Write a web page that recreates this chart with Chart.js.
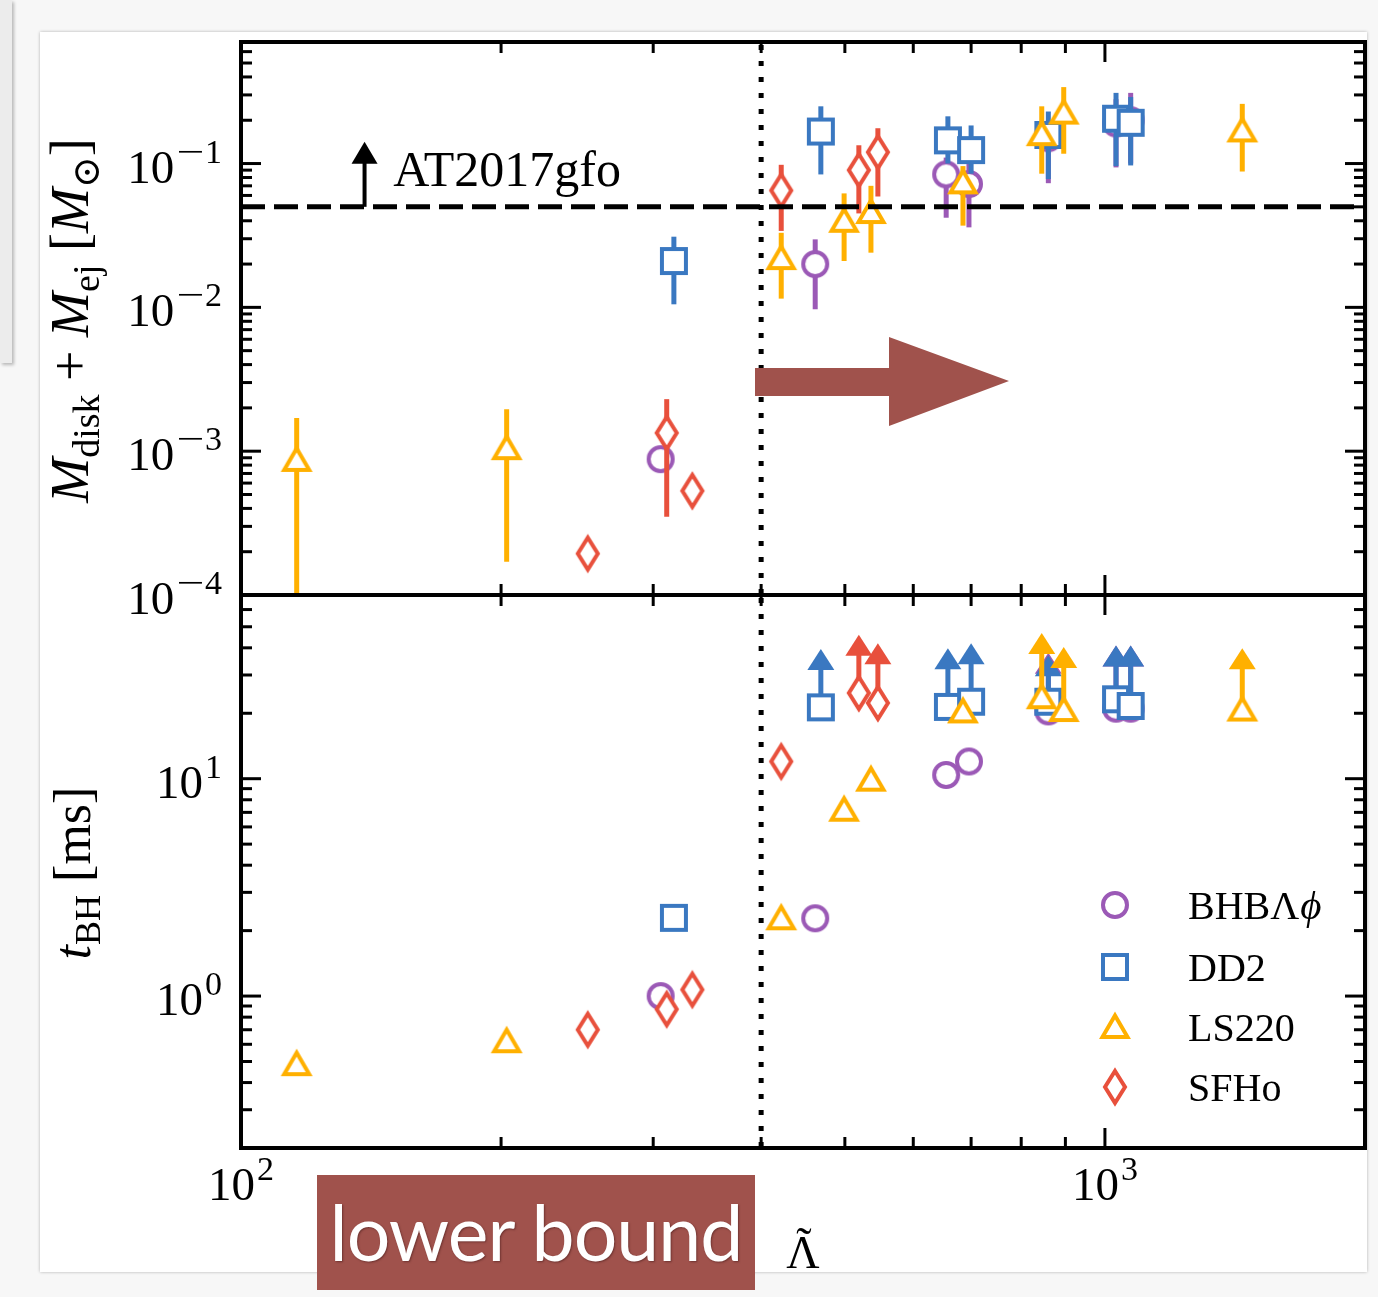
<!DOCTYPE html>
<html>
<head>
<meta charset="utf-8">
<script src="https://cdn.jsdelivr.net/npm/chart.js@4/dist/chart.umd.min.js"></script>
<style>
html,body{margin:0;padding:0;background:#f5f5f5;}
#page{position:relative;width:1378px;height:1297px;overflow:hidden;background:#f7f7f7;}
#ghost{position:absolute;left:0;top:0;width:12px;height:363px;background:#ececec;box-shadow:2px 2px 3px rgba(0,0,0,0.25);}
#card{position:absolute;left:40px;top:32px;width:1327px;height:1240px;background:#fff;box-shadow:0 0 3px rgba(0,0,0,0.28);}
canvas{position:absolute;left:0;top:0;}
#bigArrow{position:absolute;left:0;top:0;}
#lowerBound{position:absolute;left:317px;top:1175px;width:438px;height:115px;background:#a0524c;color:#fff;
  font-family:Lato,'Open Sans',sans-serif;font-size:77px;line-height:112px;text-align:center;letter-spacing:-1px;
  text-shadow:1px 1px 2px rgba(60,20,20,0.5);}
</style>
</head>
<body>
<div id="page">
  <div id="ghost"></div>
  <div id="card"></div>
  <canvas id="topChart" width="1378" height="1297"></canvas>
  <canvas id="bottomChart" width="1378" height="1297"></canvas>
  <svg id="bigArrow" width="1378" height="1297"><polygon points="755,368 889,368 889,337 1009,381 889,426 889,396 755,396" fill="#a0524c"/></svg>
  <div id="lowerBound">lower bound</div>
</div>
<script>
// ---------------- data ----------------
const seriesNames = ['BHBΛϕ', 'DD2', 'LS220', 'SFHo'];

// Lambda-tilde of each simulation
const bhbLambda   = [306, 462, 655, 696, 860, 1030, 1071];
const dd2Lambda   = [317, 469, 658, 700, 860, 1030, 1071];
const ls220Lambda = [116, 203, 422, 499, 536, 685, 845, 896, 1442];
const sfhoLambda  = [252, 311, 333, 422, 519, 546];

// M_disk + M_ej [Msun] and its error range
const bhbMass     = [8.8e-4, 0.020, 0.084, 0.072, 0.150, 0.190, 0.200];
const bhbMassLow  = [null, 0.0097, 0.042, 0.036, 0.073, 0.094, 0.10];
const bhbMassHigh = [null, 0.0297, 0.11, 0.10, 0.20, 0.28, 0.31];

const dd2Mass     = [0.021, 0.167, 0.145, 0.124, 0.158, 0.205, 0.192];
const dd2MassLow  = [0.0105, 0.084, 0.10, 0.085, 0.078, 0.096, 0.097];
const dd2MassHigh = [0.031, 0.25, 0.213, 0.184, 0.23, 0.31, 0.29];

const ls220Mass     = [8.7e-4, 1.05e-3, 0.022, 0.040, 0.046, 0.074, 0.16, 0.226, 0.17];
const ls220MassLow  = [3e-5, 1.7e-4, 0.0115, 0.021, 0.024, 0.037, 0.085, 0.117, 0.088];
const ls220MassHigh = [1.7e-3, 1.96e-3, 0.033, 0.062, 0.070, 0.096, 0.25, 0.34, 0.26];

const sfhoMass     = [1.94e-4, 1.34e-3, 5.3e-4, 0.065, 0.090, 0.120];
const sfhoMassLow  = [null, 3.5e-4, null, 0.034, 0.045, 0.059];
const sfhoMassHigh = [null, 2.3e-3, null, 0.098, 0.134, 0.176];

// t_BH [ms] and lower-limit arrow tips
const bhbTime      = [1.0, 2.28, 10.4, 12.0, 20.4, 21.0, 21.0];
const bhbTimeLimit = [null, null, null, null, 38, 41, 41];
const dd2Time      = [2.29, 21.3, 21.4, 22.6, 22.6, 23.2, 21.6];
const dd2TimeLimit = [null, 39.5, 39.8, 42, 37, 41, 41];
const ls220Time      = [0.486, 0.62, 2.28, 7.2, 9.9, 20.4, 23.7, 20.7, 20.8];
const ls220TimeLimit = [null, null, null, null, null, null, 46.8, 40.4, 39.8];
const sfhoTime      = [0.70, 0.87, 1.07, 12.0, 24.8, 22.3];
const sfhoTimeLimit = [null, null, null, null, 46, 42];

// axes
const lambdaRange = [100, 2000];
const massRange   = [1e-4, 0.7];
const timeRange   = [0.2, 70];
const lambdaMajorTicks = [100, 1000];
const massMajorTicks   = [1e-4, 1e-3, 1e-2, 1e-1];
const timeMajorTicks   = [1, 10];
const at2017gfoMass = 0.05;
const lambdaLowerBound = 400;

// ---------------- styles ----------------
const colors = {bhb:'#9b59b6', dd2:'#3a78c1', ls220:'#ffb000', sfho:'#e8503c'};
const SERIF = '"Liberation Serif", "DejaVu Serif", serif';

function makeMarker(shape, color) {
  const c = document.createElement('canvas'); c.width = 44; c.height = 48;
  const g = c.getContext('2d'); g.translate(22, 24);
  g.lineWidth = 4; g.strokeStyle = color; g.fillStyle = '#fff'; g.lineJoin = 'miter'; g.miterLimit = 10;
  g.beginPath();
  if (shape === 'circle') g.arc(0, 0, 12, 0, 2 * Math.PI);
  else if (shape === 'square') g.rect(-12, -12, 24, 24);
  else if (shape === 'triangle') { g.moveTo(0, -11.5); g.lineTo(12.5, 10); g.lineTo(-12.5, 10); g.closePath(); }
  else { g.moveTo(0, -16); g.lineTo(10, 0); g.lineTo(0, 16); g.lineTo(-10, 0); g.closePath(); }
  g.fill(); g.stroke();
  return c;
}

const series = [
  {label: seriesNames[0], color: colors.bhb,   shape:'circle',   lam: bhbLambda,   mass: bhbMass,   lo: bhbMassLow,   hi: bhbMassHigh,   time: bhbTime,   lim: bhbTimeLimit,   order: 4},
  {label: seriesNames[1], color: colors.dd2,   shape:'square',   lam: dd2Lambda,   mass: dd2Mass,   lo: dd2MassLow,   hi: dd2MassHigh,   time: dd2Time,   lim: dd2TimeLimit,   order: 3},
  {label: seriesNames[2], color: colors.ls220, shape:'triangle', lam: ls220Lambda, mass: ls220Mass, lo: ls220MassLow, hi: ls220MassHigh, time: ls220Time, lim: ls220TimeLimit, order: 2},
  {label: seriesNames[3], color: colors.sfho,  shape:'diamond',  lam: sfhoLambda,  mass: sfhoMass,  lo: sfhoMassLow,  hi: sfhoMassHigh,  time: sfhoTime,  lim: sfhoTimeLimit,  order: 1},
];
series.forEach(s => s.marker = makeMarker(s.shape, s.color));

function baseDataset(s, ys) {
  return {label: s.label, data: s.lam.map((x, i) => ({x, y: ys[i]})), pointStyle: s.marker, pointRadius: 12,
    pointHoverRadius: 12, borderColor: s.color, backgroundColor: '#fff', order: s.order, showLine: false, seriesColor: s.color};
}
const topDatasets = series.map(s => Object.assign(baseDataset(s, s.mass), {errLow: s.lo, errHigh: s.hi}));
const bottomDatasets = series.map(s => Object.assign(baseDataset(s, s.time), {limit: s.lim}));

// ---------------- helpers ----------------
function logTicks(min, max) {
  const out = [];
  for (let e = Math.floor(Math.log10(min)); e <= Math.ceil(Math.log10(max)); e++) {
    for (let m = 1; m <= 9; m++) {
      const v = m * Math.pow(10, e);
      if (v >= min * 0.9999 && v <= max * 1.0001) out.push({v, major: m === 1});
    }
  }
  return out;
}
function seg(ctx, x1, y1, x2, y2) { ctx.beginPath(); ctx.moveTo(x1, y1); ctx.lineTo(x2, y2); ctx.stroke(); }

function drawErrors(chart, ds) {
  const {ctx, chartArea: a, scales: {x, y}} = chart;
  ctx.save();
  ctx.beginPath(); ctx.rect(a.left, a.top, a.right - a.left, a.bottom - a.top); ctx.clip();
  ctx.strokeStyle = ds.seriesColor; ctx.fillStyle = ds.seriesColor; ctx.lineWidth = 5; ctx.lineCap = 'butt';
  ds.data.forEach((p, i) => {
    const px = x.getPixelForValue(p.x);
    if (ds.errLow && ds.errLow[i] != null) {
      seg(ctx, px, y.getPixelForValue(ds.errLow[i]), px, y.getPixelForValue(ds.errHigh[i]));
    }
    if (ds.limit && ds.limit[i] != null) {
      const py = y.getPixelForValue(p.y), tip = y.getPixelForValue(ds.limit[i]);
      seg(ctx, px, py, px, tip + 19);
      ctx.beginPath(); ctx.moveTo(px, tip); ctx.lineTo(px + 13.5, tip + 21); ctx.lineTo(px - 13.5, tip + 21); ctx.closePath(); ctx.fill();
    }
  });
  ctx.restore();
}

function drawFrame(chart) {
  const {ctx, chartArea: a, scales: {x, y}} = chart;
  ctx.save();
  ctx.strokeStyle = '#000'; ctx.lineWidth = 3; ctx.lineCap = 'butt';
  logTicks(lambdaRange[0], lambdaRange[1]).forEach(t => {
    const px = x.getPixelForValue(t.v), L = t.major ? 20 : 11;
    seg(ctx, px, a.bottom, px, a.bottom - L); seg(ctx, px, a.top, px, a.top + L);
  });
  logTicks(y.min, y.max).forEach(t => {
    const py = y.getPixelForValue(t.v), L = t.major ? 20 : 11;
    seg(ctx, a.left, py, a.left + L, py); seg(ctx, a.right, py, a.right - L, py);
  });
  ctx.lineWidth = 4;
  ctx.strokeRect(a.left, a.top, a.right - a.left, a.bottom - a.top);
  ctx.restore();
}

// "10" with a superscript exponent; the minus sign is drawn stretched like a TeX minus
function drawPow(ctx, exp, x, y, align) {
  const base = '10';
  const neg = exp < 0, digits = String(Math.abs(exp));
  ctx.font = '47px ' + SERIF; const wb = ctx.measureText(base).width;
  ctx.font = '34px ' + SERIF;
  const minusW = ctx.measureText('\u2212').width, stretch = 1.45;
  const wm = neg ? minusW * stretch + 1 : 0;
  const wd = ctx.measureText(digits).width;
  const w = wb + 2 + wm + wd;
  const x0 = align === 'right' ? x - w : x - w / 2;
  ctx.fillStyle = '#000'; ctx.textAlign = 'left'; ctx.textBaseline = 'alphabetic';
  ctx.font = '47px ' + SERIF; ctx.fillText(base, x0, y);
  ctx.font = '34px ' + SERIF;
  let xe = x0 + wb + 2;
  if (neg) {
    ctx.save(); ctx.translate(xe, y - 20); ctx.scale(stretch, 1); ctx.fillText('\u2212', 0, 0); ctx.restore();
    xe += wm;
  }
  ctx.fillText(digits, xe, y - 20);
}

function drawRich(ctx, parts, cx, cy, size) {
  ctx.save();
  ctx.translate(cx, cy); ctx.rotate(-Math.PI / 2);
  const fontOf = p => (p.it ? 'italic ' : '') + Math.round(p.sub ? size * 0.7 : size) + 'px ' + SERIF;
  let W = 0;
  parts.forEach(p => { ctx.font = fontOf(p); p.w = ctx.measureText(p.t).width; W += p.w; });
  let xx = -W / 2;
  ctx.fillStyle = '#000'; ctx.textBaseline = 'alphabetic'; ctx.textAlign = 'left';
  parts.forEach(p => { ctx.font = fontOf(p); ctx.fillText(p.t, xx, p.sub ? size * 0.2 : 0); xx += p.w; });
  ctx.restore();
}

function drawLowerBoundLine(chart) {
  const {ctx, chartArea: a, scales: {x}} = chart;
  const px = x.getPixelForValue(lambdaLowerBound);
  ctx.save(); ctx.strokeStyle = '#000'; ctx.lineWidth = 5; ctx.setLineDash([5, 11]);
  seg(ctx, px, a.top + 3, px, a.bottom); ctx.restore();
}

// ---------------- plugins ----------------
const topPlugin = {
  id: 'topDeco',
  beforeDatasetDraw(chart, args) { drawErrors(chart, chart.data.datasets[args.index]); },
  afterDatasetsDraw(chart) {
    const {ctx, chartArea: a, scales: {x, y}} = chart;
    const gy = y.getPixelForValue(at2017gfoMass);
    ctx.save(); ctx.strokeStyle = '#000'; ctx.lineWidth = 5; ctx.setLineDash([24, 9]);
    seg(ctx, a.left, gy, a.right, gy); ctx.restore();
    drawLowerBoundLine(chart);
    const ax = x.getPixelForValue(139);
    ctx.save(); ctx.strokeStyle = '#000'; ctx.fillStyle = '#000'; ctx.lineWidth = 4;
    seg(ctx, ax, gy, ax, gy - 44);
    ctx.beginPath(); ctx.moveTo(ax, gy - 65); ctx.lineTo(ax + 13, gy - 43); ctx.lineTo(ax - 13, gy - 43); ctx.closePath(); ctx.fill();
    ctx.font = '50px ' + SERIF; ctx.textBaseline = 'alphabetic'; ctx.textAlign = 'left';
    ctx.fillText('AT2017gfo', x.getPixelForValue(150), gy - 21);
    ctx.restore();
    drawFrame(chart);
    massMajorTicks.forEach(v => drawPow(ctx, Math.round(Math.log10(v)), a.left - 19, y.getPixelForValue(v) + 19, 'right'));
    drawRich(ctx, [{t:'M', it:1}, {t:'disk', sub:1}, {t:' + '}, {t:'M', it:1}, {t:'ej', sub:1}, {t:' ['}, {t:'M', it:1}, {t:'\u2299', sub:1}, {t:']'}],
      88, (a.top + a.bottom) / 2 + 2, 54);
  }
};

const bottomPlugin = {
  id: 'bottomDeco',
  beforeDatasetDraw(chart, args) { drawErrors(chart, chart.data.datasets[args.index]); },
  afterDatasetsDraw(chart) {
    const {ctx, chartArea: a, scales: {x, y}} = chart;
    drawLowerBoundLine(chart);
    drawFrame(chart);
    timeMajorTicks.forEach(v => drawPow(ctx, Math.round(Math.log10(v)), a.left - 19, y.getPixelForValue(v) + 19, 'right'));
    lambdaMajorTicks.forEach(v => drawPow(ctx, Math.round(Math.log10(v)), x.getPixelForValue(v), a.bottom + 52, 'center'));
    const cxT = (a.left + a.right) / 2;
    ctx.save(); ctx.fillStyle = '#000'; ctx.font = '46px ' + SERIF; ctx.textAlign = 'center'; ctx.textBaseline = 'alphabetic';
    ctx.fillText('\u039B', cxT, a.bottom + 120);
    ctx.fillText('\u02DC', cxT + 1, a.bottom + 111);
    ctx.restore();
    drawRich(ctx, [{t:'t', it:1}, {t:'BH', sub:1}, {t:' [ms]'}], 90, 873, 52);
    const rows = [905, 967, 1027, 1087];
    chart.data.datasets.forEach((ds, i) => {
      const ry = rows[i];
      ctx.drawImage(ds.pointStyle, 1115 - ds.pointStyle.width / 2, ry - ds.pointStyle.height / 2);
      ctx.save(); ctx.fillStyle = '#000'; ctx.textBaseline = 'alphabetic'; ctx.textAlign = 'left';
      let label = ds.label, tail = '';
      if (label.endsWith('ϕ')) { tail = 'ϕ'; label = label.slice(0, -1); }
      ctx.font = '40px ' + SERIF; ctx.fillText(label, 1188, ry + 14);
      if (tail) { const w = ctx.measureText(label).width; ctx.font = 'italic 41px ' + SERIF; ctx.fillText(tail, 1188 + w + 1, ry + 14); }
      ctx.restore();
    });
  }
};

function makeChart(id, datasets, yRange, padding, plugin) {
  return new Chart(document.getElementById(id), {
    type: 'scatter',
    data: {datasets},
    options: {
      responsive: false, animation: false, events: [],
      layout: {padding},
      plugins: {legend: {display: false}, tooltip: {enabled: false}, title: {display: false}},
      scales: {
        x: {type: 'logarithmic', min: lambdaRange[0], max: lambdaRange[1], display: false, bounds: 'data'},
        y: {type: 'logarithmic', min: yRange[0], max: yRange[1], display: false, bounds: 'data'}
      }
    },
    plugins: [plugin]
  });
}

makeChart('topChart', topDatasets, massRange, {left: 241, right: 13, top: 42, bottom: 702}, topPlugin);
makeChart('bottomChart', bottomDatasets, timeRange, {left: 241, right: 13, top: 595, bottom: 149}, bottomPlugin);
</script>
</body>
</html>
